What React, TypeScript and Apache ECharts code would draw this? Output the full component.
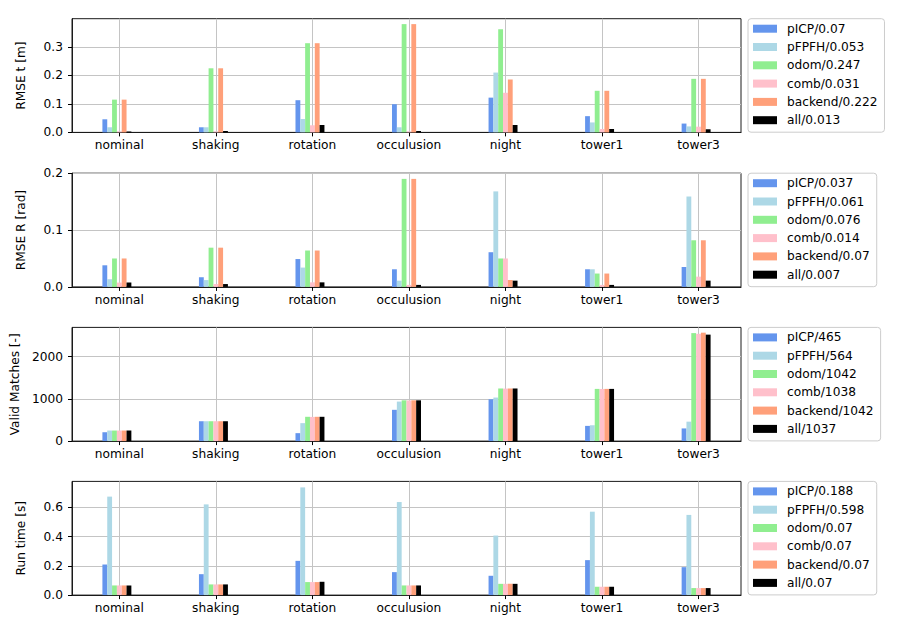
import React, { useEffect, useRef } from 'react';
import * as echarts from 'echarts';

const categories = ['nominal', 'shaking', 'rotation', 'occulusion', 'night', 'tower1', 'tower3'];
const methods = ['pICP', 'pFPFH', 'odom', 'comb', 'backend', 'all'];
const methodColors = ['#6495ED', '#ADD8E6', '#90EE90', '#FFC0CB', '#FFA07A', '#000000'];

// Panel 1: RMSE t [m]
const rmseT_pICP = [0.046, 0.018, 0.113, 0.099, 0.122, 0.057, 0.031];
const rmseT_pFPFH = [0.018, 0.018, 0.047, 0.018, 0.21, 0.035, 0.021];
const rmseT_odom = [0.115, 0.225, 0.313, 0.38, 0.362, 0.146, 0.188];
const rmseT_comb = [0.003, 0.003, 0.025, 0.003, 0.139, 0.012, 0.02];
const rmseT_backend = [0.115, 0.225, 0.313, 0.38, 0.186, 0.146, 0.188];
const rmseT_all = [0.003, 0.005, 0.026, 0.005, 0.026, 0.012, 0.011];
const rmseT_means = ['0.07', '0.053', '0.247', '0.031', '0.222', '0.013'];
const rmseT_ticks = [0, 0.1, 0.2, 0.3];

// Panel 2: RMSE R [rad]
const rmseR_pICP = [0.038, 0.017, 0.049, 0.031, 0.061, 0.031, 0.035];
const rmseR_pFPFH = [0.0135, 0.012, 0.034, 0.011, 0.168, 0.031, 0.159];
const rmseR_odom = [0.05, 0.069, 0.064, 0.19, 0.05, 0.0235, 0.082];
const rmseR_comb = [0.0076, 0.005, 0.008, 0.0035, 0.05, 0.0035, 0.018];
const rmseR_backend = [0.05, 0.069, 0.064, 0.19, 0.012, 0.0235, 0.082];
const rmseR_all = [0.0076, 0.005, 0.008, 0.0035, 0.011, 0.0035, 0.011];
const rmseR_means = ['0.037', '0.061', '0.076', '0.014', '0.07', '0.007'];
const rmseR_ticks = [0, 0.1, 0.2];

// Panel 3: Valid Matches [-]
const valid_pICP = [210, 470, 188, 740, 990, 360, 300];
const valid_pFPFH = [250, 470, 425, 935, 1030, 375, 460];
const valid_odom = [250, 470, 575, 965, 1245, 1235, 2555];
const valid_comb = [250, 470, 572, 962, 1242, 1232, 2538];
const valid_backend = [250, 470, 575, 965, 1245, 1235, 2565];
const valid_all = [250, 470, 575, 965, 1245, 1235, 2519];
const valid_means = ['465', '564', '1042', '1038', '1042', '1037'];
const valid_ticks = [0, 1000, 2000];

// Panel 4: Run time [s]
const time_pICP = [0.209, 0.143, 0.234, 0.157, 0.132, 0.239, 0.191];
const time_pFPFH = [0.673, 0.62, 0.736, 0.636, 0.407, 0.57, 0.548];
const time_odom = [0.066, 0.073, 0.089, 0.066, 0.077, 0.057, 0.048];
const time_comb = [0.066, 0.073, 0.089, 0.066, 0.077, 0.057, 0.048];
const time_backend = [0.066, 0.073, 0.089, 0.066, 0.077, 0.057, 0.048];
const time_all = [0.066, 0.073, 0.091, 0.066, 0.077, 0.057, 0.048];
const time_means = ['0.188', '0.598', '0.07', '0.07', '0.07', '0.07'];
const time_ticks = [0, 0.2, 0.4, 0.6];

const panels = [
  { name: 'RMSE t [m]', max: 0.399, ticks: rmseT_ticks, digits: 1, means: rmseT_means,
    values: [rmseT_pICP, rmseT_pFPFH, rmseT_odom, rmseT_comb, rmseT_backend, rmseT_all] },
  { name: 'RMSE R [rad]', max: 0.2, ticks: rmseR_ticks, digits: 1, means: rmseR_means,
    values: [rmseR_pICP, rmseR_pFPFH, rmseR_odom, rmseR_comb, rmseR_backend, rmseR_all] },
  { name: 'Valid Matches [-]', max: 2690, ticks: valid_ticks, digits: 0, means: valid_means,
    values: [valid_pICP, valid_pFPFH, valid_odom, valid_comb, valid_backend, valid_all] },
  { name: 'Run time [s]', max: 0.777, ticks: time_ticks, digits: 1, means: time_means,
    values: [time_pICP, time_pFPFH, time_odom, time_comb, time_backend, time_all] },
];

const FONT = 'DejaVu Sans';
const FS = 12.2;
const GRID_TOPS = [18.7, 173.2, 327.4, 481.4];
const GRID_H = 113.7;
const GRID_LEFT = 72;
const GRID_W = 669;

export default function App() {
  const ref = useRef<HTMLDivElement>(null);

  useEffect(() => {
    if (!ref.current) return;
    const chart = echarts.init(ref.current, undefined, { renderer: 'svg' });
    const catIdx = categories.map((_, i) => i);

    const grid: any[] = [];
    const xAxis: any[] = [];
    const yAxis: any[] = [];
    const series: any[] = [];
    const legend: any[] = [];

    panels.forEach((p, pi) => {
      grid.push({
        left: GRID_LEFT, top: GRID_TOPS[pi], width: GRID_W, height: GRID_H,
        show: true, borderColor: '#1a1a1a', borderWidth: 1, backgroundColor: 'transparent',
      });
      xAxis.push({
        type: 'value', gridIndex: pi, min: -0.49, max: 6.44,
        axisLine: { show: true, onZero: false, lineStyle: { color: '#1a1a1a', width: 1 } },
        axisTick: { show: true, length: 4, customValues: catIdx, lineStyle: { color: '#000' } },
        axisLabel: {
          customValues: catIdx,
          formatter: (v: number) => categories[Math.round(v)] ?? '',
          fontSize: FS, fontFamily: FONT, color: '#000', margin: 6, lineHeight: 14,
        },
        splitLine: { show: true, lineStyle: { color: '#c4c4c4', width: 1 } },
      });
      yAxis.push({
        type: 'value', gridIndex: pi, min: 0, max: p.max,
        name: p.name, nameLocation: 'middle', nameGap: 45,
        nameTextStyle: { fontSize: FS, fontFamily: FONT, color: '#000' },
        axisLine: { show: true, onZero: false, lineStyle: { color: '#1a1a1a', width: 1 } },
        axisTick: { show: true, length: 4, customValues: p.ticks, lineStyle: { color: '#000' } },
        axisLabel: {
          customValues: p.ticks,
          formatter: (v: number) => v.toFixed(p.digits),
          fontSize: FS, fontFamily: FONT, color: '#000', margin: 9,
        },
        splitLine: { show: true, lineStyle: { color: '#c4c4c4', width: 1 } },
      });
      const names = methods.map((m, mi) => `${m}/${p.means[mi]}`);
      methods.forEach((m, mi) => {
        series.push({
          type: 'bar', name: names[mi], xAxisIndex: pi, yAxisIndex: pi,
          data: p.values[mi].map((v, ci) => [ci, v]),
          barWidth: '5%', barGap: '0%',
          itemStyle: { color: methodColors[mi] },
          silent: true,
        });
      });
      // empty slot so that the 4th bar of each group sits on the tick, as in the source
      series.push({
        type: 'bar', name: `_slot${pi}`, xAxisIndex: pi, yAxisIndex: pi,
        data: categories.map((_, ci) => [ci, null]),
        barWidth: '5%', barGap: '0%',
        itemStyle: { color: 'transparent' }, silent: true,
      });
      legend.push({
        data: names, orient: 'vertical', left: 748, top: GRID_TOPS[pi],
        icon: 'rect', itemWidth: 24, itemHeight: 8, itemGap: 6.3,
        padding: [4, 7, 6, 5],
        backgroundColor: 'rgba(255,255,255,0.8)', borderColor: '#cccccc', borderWidth: 1, borderRadius: 3,
        textStyle: { fontSize: FS, fontFamily: FONT, color: '#000', lineHeight: 12, padding: [0, 0, 0, 5] },
        itemStyle: { borderWidth: 0 },
        selectedMode: false,
      });
    });

    chart.setOption({
      animation: false,
      backgroundColor: '#ffffff',
      textStyle: { fontFamily: FONT },
      grid, xAxis, yAxis, series, legend,
    });
    return () => chart.dispose();
  }, []);

  return (
    <div
      ref={ref}
      style={{ position: 'fixed', left: 0, top: 0, width: 900, height: 630, background: '#fff' }}
    />
  );
}
